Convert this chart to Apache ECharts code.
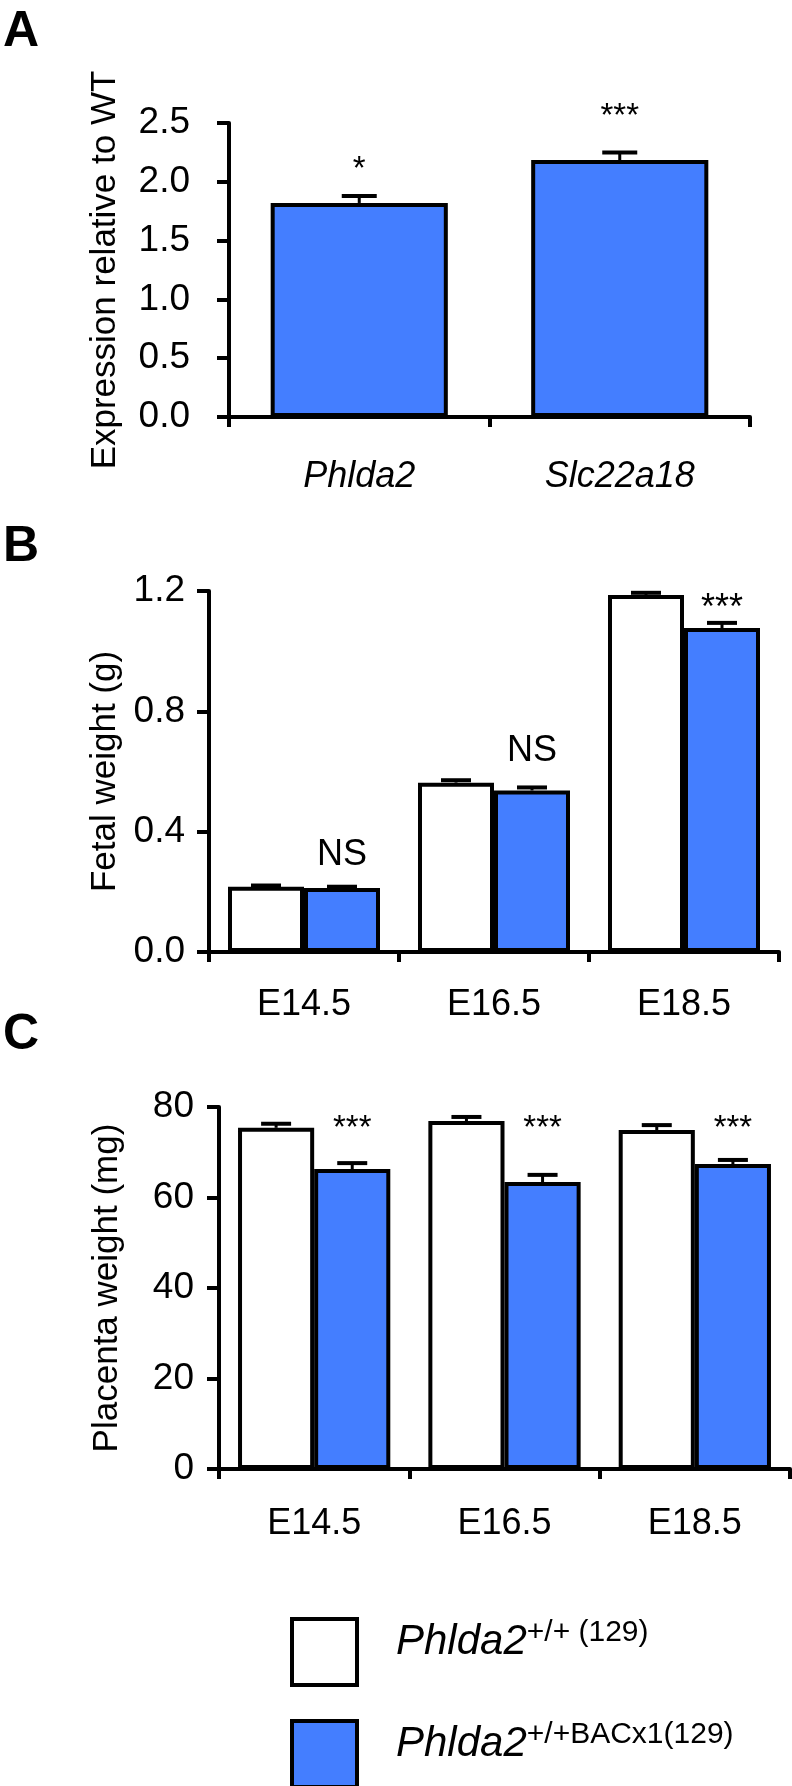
<!DOCTYPE html>
<html><head><meta charset="utf-8">
<script src="https://cdn.jsdelivr.net/npm/echarts@6/dist/echarts.min.js"></script>
<style>html,body{margin:0;padding:0;background:#fff}#c{width:792px;height:1786px}</style>
</head><body><div id="c"></div>
<script>
// ---------- data ----------
const genesA = ['Phlda2', 'Slc22a18'];
const exprA = [1.82, 2.185];
const exprErrA = [0.06, 0.065];
const sigA = ['*', '***'];
const sigAtA = [2.10, 2.55];

const stages = ['E14.5', 'E16.5', 'E18.5'];
const fetalWT = [0.217, 0.563, 1.187];
const fetalWTErr = [0.004, 0.008, 0.007];
const fetalBAC = [0.213, 0.537, 1.077];
const fetalBACErr = [0.004, 0.010, 0.017];
const sigB = ['NS', 'NS', '***'];
const sigAtB = [0.323, 0.667, 1.14];

const placWT = [75.4, 76.9, 74.9];
const placWTErr = [0.9, 0.9, 1.1];
const placBAC = [66.3, 63.4, 67.4];
const placBACErr = [1.3, 1.6, 0.9];
const sigC = ['***', '***', '***'];
const sigAtC = [75.1, 75.1, 75.1];

const legendNames = ['wt', 'bac'];
const legendMain = ['Phlda2', 'Phlda2'];
const legendSup = ['+/+ (129)', '+/+BACx1(129)'];

// ---------- style ----------
const FONT = '"Liberation Sans", Arial, Helvetica, sans-serif';
const BLUE = '#447EFF';

function yAxis(gi, min, max, interval, dec, name, gap, margin) {
  return {
    type: 'value', gridIndex: gi, min: min, max: max, interval: interval,
    name: name, nameLocation: 'middle', nameGap: gap,
    nameTextStyle: { fontSize: 35, fontFamily: FONT, color: '#000' },
    axisLine: { show: true, lineStyle: { color: '#000', width: 4 } },
    axisTick: { show: true, length: 12, lineStyle: { color: '#000', width: 4 } },
    splitLine: { show: false },
    axisLabel: { fontSize: 37, fontFamily: FONT, color: '#000', margin: margin,
      formatter: v => v.toFixed(dec) }
  };
}
function xAxis(gi, cats, italic, margin) {
  return {
    type: 'category', gridIndex: gi, data: cats,
    axisLine: { lineStyle: { color: '#000', width: 4 } },
    axisTick: { show: true, length: 10, lineStyle: { color: '#000', width: 4 } },
    axisLabel: { fontSize: 36, fontFamily: FONT, color: '#000', margin: margin,
      fontStyle: italic ? 'italic' : 'normal' }
  };
}
function errSeries(ai, vals, errs, shift, capW) {
  return {
    type: 'custom', xAxisIndex: ai, yAxisIndex: ai, clip: false, z: 5, silent: true,
    data: vals.map((v, i) => [i, v, errs[i]]),
    encode: { x: 0, y: 1 },
    renderItem: (params, api) => {
      const c = api.value(0), v = api.value(1), e = api.value(2);
      const w = api.size([1, 0])[0];
      const p0 = api.coord([c, v]), p1 = api.coord([c, v + e]);
      const x = p0[0] + shift * w;
      return { type: 'group', children: [
        { type: 'line', shape: { x1: x, y1: p0[1], x2: x, y2: p1[1] }, style: { stroke: '#000', lineWidth: 3 } },
        { type: 'line', shape: { x1: x - capW / 2, y1: p1[1], x2: x + capW / 2, y2: p1[1] }, style: { stroke: '#000', lineWidth: 4 } }
      ] };
    }
  };
}
function sigSeries(ai, labels, at, shift, fs) {
  return {
    type: 'custom', xAxisIndex: ai, yAxisIndex: ai, clip: false, z: 6, silent: true,
    data: at.map((v, i) => [i, v]),
    encode: { x: 0, y: 1 },
    renderItem: (params, api) => {
      const p = api.coord([api.value(0), api.value(1)]);
      const w = api.size([1, 0])[0];
      return { type: 'text', x: p[0] + shift * w, y: p[1],
        style: { text: labels[params.dataIndex], fill: '#000', fontSize: fs, fontFamily: FONT,
          align: 'center', verticalAlign: 'middle', textAlign: 'center', textVerticalAlign: 'middle' } };
    }
  };
}
function barSeries(ai, name, vals, color, gap, bw) {
  return {
    type: 'bar', name: name, xAxisIndex: ai, yAxisIndex: ai, data: vals,
    barGap: '0%', barCategoryGap: gap, z: 3,
    itemStyle: { color: color, borderColor: '#000', borderWidth: bw }
  };
}
function legendBox(idx, top) {
  return {
    data: [legendNames[idx]], orient: 'vertical', left: 290, top: top, padding: 0,
    itemWidth: 65, itemHeight: 66, icon: 'rect', selectedMode: false,
    itemStyle: { borderColor: '#000', borderWidth: 4 },
    formatter: name => {
      const i = legendNames.indexOf(name);
      return '{m|' + legendMain[i] + '}{s|' + legendSup[i] + '}';
    },
    textStyle: { rich: {
      m: { fontSize: 42, fontStyle: 'italic', fontFamily: FONT, color: '#000', lineHeight: 48,
           padding: [0, 0, 20, 34] },
      s: { fontSize: 30, fontFamily: FONT, color: '#000', lineHeight: 30, padding: [0, 0, 38, 0] }
    } }
  };
}

const gapA = 0.32, gapBC = 0.2;
const sh = (1 - gapBC) / 4;

const option = {
  animation: false,
  backgroundColor: '#fff',
  title: [
    { text: 'A', left: -2, top: 2, textStyle: { fontSize: 50, fontWeight: 'bold', fontFamily: FONT, color: '#000' } },
    { text: 'B', left: -2, top: 517, textStyle: { fontSize: 50, fontWeight: 'bold', fontFamily: FONT, color: '#000' } },
    { text: 'C', left: -2, top: 1005, textStyle: { fontSize: 50, fontWeight: 'bold', fontFamily: FONT, color: '#000' } }
  ],
  grid: [
    { left: 229, right: 42, top: 123, bottom: 1786 - 417 },
    { left: 209, right: 13, top: 591, bottom: 1786 - 952 },
    { left: 219, right: 2, top: 1107, bottom: 1786 - 1469 }
  ],
  xAxis: [ xAxis(0, genesA, true, 42), xAxis(1, stages, false, 35), xAxis(2, stages, false, 37) ],
  yAxis: [
    yAxis(0, 0, 2.5, 0.5, 1, 'Expression relative to WT', 106, 39),
    yAxis(1, 0, 1.2, 0.4, 1, 'Fetal weight (g)', 84, 24),
    yAxis(2, 0, 80, 20, 0, 'Placenta weight (mg)', 94, 25)
  ],
  legend: [ legendBox(0, 1617), legendBox(1, 1719) ],
  series: [
    barSeries(0, 'expr', exprA, BLUE, (gapA * 100) + '%', 4),
    errSeries(0, exprA, exprErrA, 0, 35),
    sigSeries(0, sigA, sigAtA, 0, 33),

    barSeries(1, 'wt', fetalWT, '#fff', '20%', 4),
    barSeries(1, 'bac', fetalBAC, BLUE, '20%', 4),
    errSeries(1, fetalWT, fetalWTErr, -sh, 30),
    errSeries(1, fetalBAC, fetalBACErr, sh, 30),
    sigSeries(1, sigB, sigAtB, sh, 36),

    barSeries(2, 'wt', placWT, '#fff', '20%', 4),
    barSeries(2, 'bac', placBAC, BLUE, '20%', 4),
    errSeries(2, placWT, placWTErr, -sh, 30),
    errSeries(2, placBAC, placBACErr, sh, 30),
    sigSeries(2, sigC, sigAtC, sh, 33)
  ]
};
const chart = echarts.init(document.getElementById('c'), null, { renderer: 'canvas' });
chart.setOption(option);
</script></body></html>
